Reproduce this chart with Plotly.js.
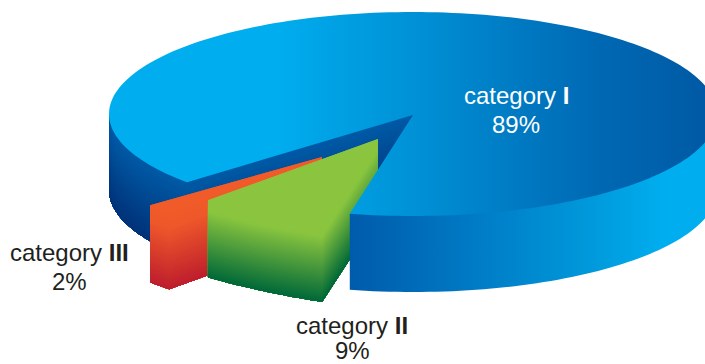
<!DOCTYPE html>
<html>
<head>
<meta charset="utf-8">
<script src="https://cdn.plot.ly/plotly-3.0.1.min.js"></script>
<style>html,body{margin:0;padding:0;background:#fff}#chart{width:705px;height:364px}</style>
</head>
<body>
<div id="chart"></div>
<script>
// Exploded pseudo-3D pie: shares and their names
const categories = ['category I', 'category II', 'category III'];
const shares = [89, 9, 2];

const W = 705, H = 364;
const rad = d => d * Math.PI / 180;

// Projected geometry of each wedge: centre, ellipse radii, extrusion height
const body = {cx: 413, cy: 114, rx: 304, ry: 102, depth: 76, apexY: 115};
const wedgeII = {cx: 378, cy: 139, rx: 236, ry: 88.5, depth: 77, bulge: 0.45};
const wedgeIII = {cx: 322, cy: 157, rx: 223.5, ry: 75.7, depth: 77};

// The gap of the body opens at this ellipse angle (clockwise on screen from +x);
// angles near the viewer are compressed by the tilt of the disc
const gapStart = 102;
const tiltCompression = 0.91;
const sweep = shares.map(s => s / 100 * 360);
const gapEnd = gapStart + (sweep[1] + sweep[2]) * tiltCompression;
const wedgeIIStart = 103.7;
const wedgeIIIEnd = 140.3;

function arc(g, a0, a1, dy) {
  const n = Math.max(2, Math.ceil(Math.abs(a1 - a0) / 1.5));
  const at = a => [g.cx + g.rx * Math.cos(rad(a)), g.cy + g.ry * Math.sin(rad(a)) + (dy || 0)];
  const first = at(a0), last = at(a1);
  const bulge = g.bulge === undefined ? 1 : g.bulge;
  const pts = [];
  for (let i = 0; i <= n; i++) {
    const f = i / n, p = at(a0 + (a1 - a0) * f);
    const cx = first[0] + (last[0] - first[0]) * f, cy = first[1] + (last[1] - first[1]) * f;
    pts.push([cx + (p[0] - cx) * bulge, cy + (p[1] - cy) * bulge]);
  }
  return pts;
}

function polygon(pts, fill) {
  const closed = pts.concat([pts[0]]);
  const tr = {
    type: 'scatter', mode: 'none',
    x: closed.map(p => p[0]), y: closed.map(p => p[1]),
    fill: 'toself', hoverinfo: 'skip', showlegend: false
  };
  if (typeof fill === 'string') tr.fillcolor = fill; else tr.fillgradient = fill;
  return tr;
}

function mix(stops, f) {
  let i = 0;
  while (i < stops.length - 2 && f > stops[i + 1][0]) i++;
  const [f0, c0] = stops[i], [f1, c1] = stops[i + 1];
  const k = Math.min(1, Math.max(0, (f - f0) / (f1 - f0)));
  const v = c0.map((c, j) => Math.round(c + (c1[j] - c) * k));
  return `rgb(${v[0]},${v[1]},${v[2]})`;
}

// Extruded side: bands parallel to the top edge, painted downwards so that no seams show
function shadedWall(path, depth, stops, n) {
  const out = [];
  const lower = path.map(p => [p[0], p[1] + depth]).reverse();
  for (let i = 0; i < n; i++) {
    const h = depth * i / n;
    const upper = path.map(p => [p[0], p[1] + h]);
    out.push(polygon(upper.concat(lower), mix(stops, (i + 0.5) / n)));
  }
  return out;
}

// A wedge: whole outline as an underlay, then the shaded wall, then its flat top face
function wedge(path, depth, faceColor, stops, n) {
  const lower = path.map(p => [p[0], p[1] + depth]).reverse();
  return [
    polygon(lower.concat([path[0], path[path.length - 1]]), faceColor),
    ...shadedWall(path, depth, stops, n),
    polygon(path, faceColor)
  ];
}

// Colour ramps
const darkFace = '#005aa6';
const greenFace = '#8bc53f';
const orangeFace = '#f15a29';
const darkWallRamp = [[0, [0, 90, 166]], [1, [0, 50, 120]]];
const greenWallRamp = [[0, [139, 197, 63]], [0.14, [139, 197, 63]], [1, [0, 104, 56]]];
const orangeWallRamp = [[0, [241, 90, 41]], [0.2, [238, 88, 42]], [1, [190, 30, 45]]];
const bodyTopScale = [[0, '#00aeef'], [0.27, '#00aeef'], [0.5, '#0091d6'], [0.8, '#0069b4'], [1, '#0058a3']];
const bodyFrontScale = [[0, '#005bab'], [0.3, '#0073bf'], [0.75, '#0098da'], [1, '#00aeef']];

const traces = [];
const bodyApex = [body.cx, body.apexY];

// Far side of the body seen through the gap
const backPath = arc(body, 180, gapEnd).concat([bodyApex]);
traces.push(...wedge(backPath, body.depth, darkFace, darkWallRamp, 30));

// Category III wedge
const iiiArc = arc(wedgeIII, wedgeIIIEnd, wedgeIIIEnd - sweep[2]);
const iiiPath = iiiArc.concat([[wedgeIII.cx, wedgeIII.cy]]);
traces.push(...wedge(iiiPath, wedgeIII.depth, orangeFace, orangeWallRamp, 30));

// Category II wedge
const iiArc = arc(wedgeII, wedgeIIStart + sweep[1], wedgeIIStart);
const iiPath = iiArc.concat([[wedgeII.cx, wedgeII.cy]]);
traces.push(...wedge(iiPath, wedgeII.depth, greenFace, greenWallRamp, 36));

// Front wall of the body; its upper edge runs slightly under the top face
const frontCorner = arc(body, gapStart, gapStart - 1)[0];
const frontTop = [frontCorner].concat(arc(body, gapStart - 1, 0, -2));
const frontBottom = arc(body, 0, gapStart, body.depth);
traces.push(polygon(frontTop.concat(frontBottom), {
  type: 'horizontal', start: 350, stop: 665, colorscale: bodyFrontScale
}));

// Top face of the body
const topFace = arc(body, gapEnd, gapStart + 360).concat([bodyApex]);
traces.push(polygon(topFace, {
  type: 'horizontal', start: 109, stop: 717, colorscale: bodyTopScale
}));

const font = (color) => ({family: '"Liberation Sans", Arial, sans-serif', size: 24, color});
const label = (text, x, y, color) => ({
  text, x, y, xref: 'x', yref: 'y', xanchor: 'center', yanchor: 'middle',
  showarrow: false, font: font(color), borderpad: 0
});
const dark = '#231f20';
const numeral = s => s.replace(/ (I+)$/, ' <b>$1</b>');

const annotations = [
  label(numeral(categories[0]), 516, 95, '#ffffff'),
  label(shares[0] + '%', 516, 124, '#ffffff'),
  label(numeral(categories[1]), 352, 325, dark),
  label(shares[1] + '%', 352, 350, dark),
  label(numeral(categories[2]), 69, 252, dark),
  label(shares[2] + '%', 69, 281, dark)
];

Plotly.newPlot('chart', traces, {
  width: W, height: H,
  margin: {l: 0, r: 0, t: 0, b: 0},
  paper_bgcolor: '#ffffff', plot_bgcolor: '#ffffff',
  showlegend: false,
  xaxis: {range: [0, W], visible: false, fixedrange: true},
  yaxis: {range: [H, 0], visible: false, fixedrange: true},
  annotations
}, {displayModeBar: false, staticPlot: true});
</script>
</body>
</html>
